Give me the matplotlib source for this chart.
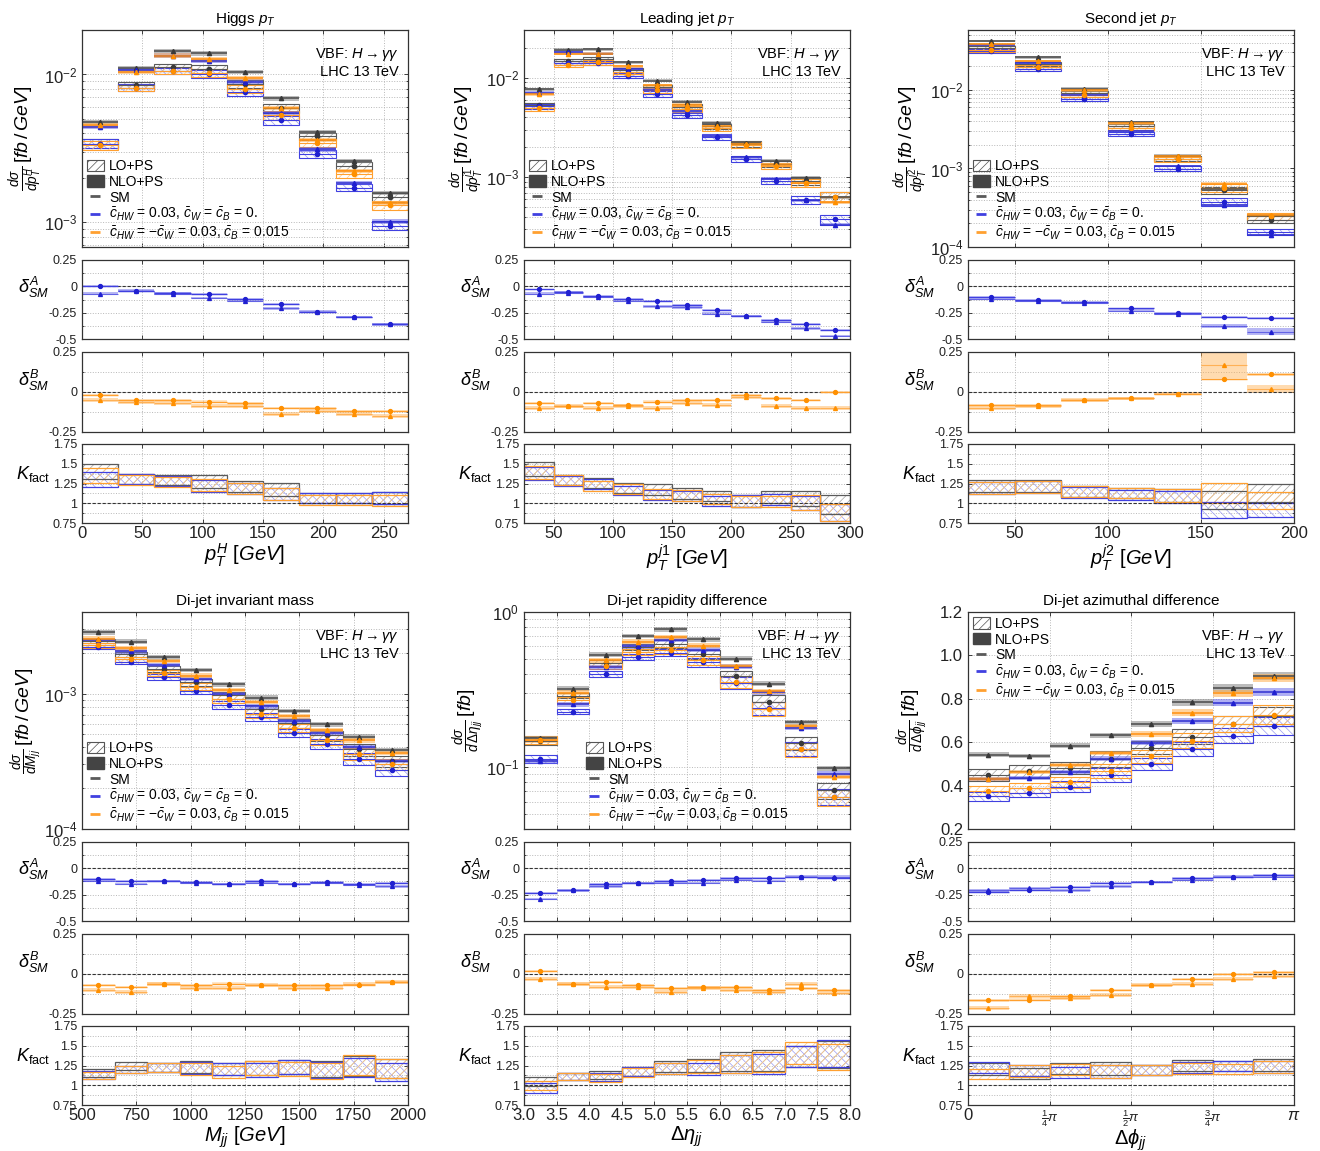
import numpy as np
import matplotlib
matplotlib.use('Agg')
from matplotlib import pyplot as plt
from matplotlib.patches import Patch
from matplotlib.lines import Line2D
from matplotlib.ticker import LogLocator, NullFormatter, MultipleLocator

plt.rcParams['font.family'] = ['Liberation Sans', 'DejaVu Sans']
plt.rcParams['mathtext.fontset'] = 'custom'
plt.rcParams['mathtext.rm'] = 'Liberation Sans'
plt.rcParams['mathtext.it'] = 'Liberation Sans:italic'
plt.rcParams['mathtext.bf'] = 'Liberation Sans:bold'
plt.rcParams['hatch.linewidth'] = 0.5

# ---- Higgs pT ----
HPT_EDGES = [0, 30, 60, 90, 120, 150, 180, 210, 240, 270]
HPT_SM_LO = [3.40e-3, 8.5e-3, 1.12e-2, 1.09e-2, 8.6e-3, 5.9e-3, 3.82e-3, 2.42e-3, 1.48e-3]
HPT_SM_NLO = [4.76e-3, 1.11e-2, 1.445e-2, 1.39e-2, 1.04e-2, 6.9e-3, 4.09e-3, 2.59e-3, 1.58e-3]
HPT_DA_LO = [0.0, -0.04, -0.06, -0.07, -0.12, -0.17, -0.24, -0.29, -0.36]
HPT_DA_NLO = [-0.07, -0.04, -0.07, -0.11, -0.14, -0.21, -0.24, -0.29, -0.36]
HPT_DB_LO = [-0.02, -0.05, -0.05, -0.06, -0.07, -0.10, -0.10, -0.12, -0.12]
HPT_DB_NLO = [-0.05, -0.06, -0.07, -0.09, -0.09, -0.14, -0.12, -0.14, -0.15]
HPT_LO_UNC = [0.07, 0.05, 0.05, 0.06, 0.06, 0.07, 0.06, 0.06, 0.07]

# ---- leading jet pT ----
LJ_EDGES = [25, 50, 75, 100, 125, 150, 175, 200, 225, 250, 275, 300]
LJ_SM_LO = [5.3e-3, 1.47e-2, 1.53e-2, 1.19e-2, 7.98e-3, 5.1e-3, 3.25e-3, 2.14e-3, 1.36e-3, 9.25e-4, 6.4e-4]
LJ_SM_NLO = [7.6e-3, 1.9e-2, 1.93e-2, 1.42e-2, 9.33e-3, 5.72e-3, 3.54e-3, 2.2e-3, 1.47e-3, 9.85e-4, 6.28e-4]
LJ_DA_LO = [-0.03, -0.05, -0.09, -0.12, -0.14, -0.18, -0.22, -0.28, -0.32, -0.36, -0.41]
LJ_DA_NLO = [-0.07, -0.06, -0.10, -0.14, -0.19, -0.20, -0.26, -0.28, -0.34, -0.40, -0.47]
LJ_DB_LO = [-0.07, -0.09, -0.07, -0.08, -0.06, -0.05, -0.05, -0.02, -0.04, -0.05, 0.0]
LJ_DB_NLO = [-0.10, -0.09, -0.10, -0.09, -0.10, -0.07, -0.08, -0.03, -0.09, -0.10, -0.10]
LJ_LO_UNC = [0.06, 0.05, 0.05, 0.05, 0.06, 0.06, 0.06, 0.07, 0.07, 0.09, 0.12]

# ---- second jet pT ----
SJ_EDGES = [25, 50, 75, 100, 125, 150, 175, 200]
SJ_SM_LO = [3.47e-2, 2.12e-2, 9.06e-3, 3.45e-3, 1.33e-3, 5.28e-4, 2.23e-4]
SJ_SM_NLO = [4.23e-2, 2.59e-2, 1.04e-2, 3.9e-3, 1.46e-3, 5.5e-4, 2.51e-4]
SJ_DA_LO = [-0.10, -0.13, -0.15, -0.21, -0.25, -0.29, -0.30]
SJ_DA_NLO = [-0.12, -0.14, -0.16, -0.23, -0.26, -0.38, -0.43]
SJ_DB_LO = [-0.08, -0.08, -0.05, -0.04, -0.01, 0.08, 0.11]
SJ_DB_NLO = [-0.10, -0.09, -0.05, -0.04, -0.01, 0.17, 0.02]
SJ_LO_UNC = [0.06, 0.06, 0.06, 0.06, 0.07, 0.11, 0.10]
SJ_DA_ERR = [0.012, 0.01, 0.01, 0.015, 0.01, 0.02, 0.03]
SJ_DB_ERR = [0.01, 0.01, 0.01, 0.01, 0.01, 0.085, 0.025]

# ---- di-jet invariant mass ----
MJJ_EDGES = [500, 650, 800, 950, 1100, 1250, 1400, 1550, 1700, 1850, 2000]
MJJ_SM_LO = [2.45e-3, 1.95e-3, 1.51e-3, 1.21e-3, 9.72e-4, 7.65e-4, 6.03e-4, 4.91e-4, 3.87e-4, 3.17e-4]
MJJ_SM_NLO = [2.83e-3, 2.42e-3, 1.85e-3, 1.49e-3, 1.17e-3, 9.34e-4, 7.44e-4, 5.93e-4, 4.8e-4, 3.83e-4]
MJJ_DA_LO = [-0.10, -0.12, -0.12, -0.13, -0.15, -0.12, -0.15, -0.13, -0.15, -0.14]
MJJ_DA_NLO = [-0.12, -0.15, -0.12, -0.14, -0.15, -0.14, -0.15, -0.14, -0.16, -0.17]
MJJ_DB_LO = [-0.07, -0.08, -0.06, -0.07, -0.06, -0.07, -0.07, -0.07, -0.07, -0.05]
MJJ_DB_NLO = [-0.10, -0.11, -0.06, -0.09, -0.09, -0.07, -0.09, -0.09, -0.06, -0.05]
MJJ_LO_UNC = [0.04, 0.04, 0.05, 0.06, 0.065, 0.075, 0.07, 0.085, 0.1, 0.1]

# ---- di-jet rapidity difference ----
DETA_EDGES = [3.0, 3.5, 4.0, 4.5, 5.0, 5.5, 6.0, 6.5, 7.0, 7.5, 8.0]
DETA_SM_LO = [0.147, 0.289, 0.47, 0.597, 0.623, 0.533, 0.385, 0.264, 0.143, 0.071]
DETA_SM_NLO = [0.154, 0.321, 0.532, 0.70, 0.773, 0.666, 0.50, 0.346, 0.195, 0.0986]
DETA_DA_LO = [-0.23, -0.21, -0.15, -0.14, -0.12, -0.11, -0.09, -0.09, -0.08, -0.09]
DETA_DA_NLO = [-0.29, -0.21, -0.17, -0.14, -0.14, -0.14, -0.11, -0.12, -0.08, -0.08]
DETA_DB_LO = [0.02, -0.06, -0.05, -0.07, -0.09, -0.08, -0.08, -0.10, -0.09, -0.10]
DETA_DB_NLO = [-0.03, -0.06, -0.08, -0.08, -0.11, -0.09, -0.10, -0.11, -0.06, -0.12]
DETA_LO_UNC = [0.06, 0.04, 0.045, 0.045, 0.055, 0.065, 0.09, 0.1, 0.1, 0.12]

# ---- di-jet azimuthal difference (edges in units of pi) ----
DPHI_EDGES_PI = [0, 0.125, 0.25, 0.375, 0.5, 0.625, 0.75, 0.875, 1.0]
DPHI_SM_LO = [0.45, 0.465, 0.482, 0.521, 0.575, 0.626, 0.684, 0.719]
DPHI_SM_NLO = [0.543, 0.536, 0.583, 0.632, 0.686, 0.783, 0.85, 0.904]
DPHI_DA_LO = [-0.22, -0.21, -0.18, -0.14, -0.13, -0.09, -0.08, -0.06]
DPHI_DA_NLO = [-0.21, -0.19, -0.21, -0.17, -0.13, -0.11, -0.08, -0.08]
DPHI_DB_LO = [-0.165, -0.16, -0.14, -0.10, -0.07, -0.03, 0.0, 0.01]
DPHI_DB_NLO = [-0.21, -0.14, -0.15, -0.13, -0.07, -0.06, -0.03, -0.01]
DPHI_LO_UNC = [0.06, 0.06, 0.06, 0.07, 0.055, 0.055, 0.055, 0.06]

GRAY = dict(line='#5a5a5a', nlo='#4a4a4a', band='#858585', alpha=0.55, hatch='#a0a0a0', mk='#3a3a3a')
BLUE = dict(line='#4040e0', nlo='#3030d0', band='#6060e8', alpha=0.5, hatch='#9a9af2', mk='#2020d0')
ORANGE = dict(line='#ffa030', nlo='#ff9010', band='#ffb050', alpha=0.55, hatch='#ffc888', mk='#ff9000')
HATCHES = ['////', '\\\\\\\\', '////']

PANELS = [
    dict(title='Higgs $p_T$', edges=HPT_EDGES, sm_lo=HPT_SM_LO, sm_nlo=HPT_SM_NLO,
         da_lo=HPT_DA_LO, da_nlo=HPT_DA_NLO, db_lo=HPT_DB_LO, db_nlo=HPT_DB_NLO,
         lo_unc=HPT_LO_UNC, nlo_unc=0.035, ylim=(6.8e-4, 2.0e-2), log=True,
         xlim=(0, 270), xticks=[0, 50, 100, 150, 200, 250], xticklabels=None,
         ylabel=r'$\frac{d\sigma}{dp_T^H}\,[fb\,/\,GeV]$', xlabel=r'$p_T^H\ [GeV]$', xlabel_y=-0.24,
         legend='lower left'),
    dict(title='Leading jet $p_T$', edges=LJ_EDGES, sm_lo=LJ_SM_LO, sm_nlo=LJ_SM_NLO,
         da_lo=LJ_DA_LO, da_nlo=LJ_DA_NLO, db_lo=LJ_DB_LO, db_nlo=LJ_DB_NLO,
         lo_unc=LJ_LO_UNC, nlo_unc=0.035, ylim=(2.0e-4, 3.0e-2), log=True,
         xlim=(25, 300), xticks=[50, 100, 150, 200, 250, 300], xticklabels=None,
         ylabel=r'$\frac{d\sigma}{dp_T^{j1}}\,[fb\,/\,GeV]$', xlabel=r'$p_T^{j1}\ [GeV]$', xlabel_y=-0.24,
         legend='lower left'),
    dict(title='Second jet $p_T$', edges=SJ_EDGES, sm_lo=SJ_SM_LO, sm_nlo=SJ_SM_NLO,
         da_lo=SJ_DA_LO, da_nlo=SJ_DA_NLO, db_lo=SJ_DB_LO, db_nlo=SJ_DB_NLO,
         lo_unc=SJ_LO_UNC, nlo_unc=0.035, ylim=(1.0e-4, 5.8e-2), log=True,
         xlim=(25, 200), xticks=[50, 100, 150, 200], xticklabels=None,
         ylabel=r'$\frac{d\sigma}{dp_T^{j2}}\,[fb\,/\,GeV]$', xlabel=r'$p_T^{j2}\ [GeV]$', xlabel_y=-0.24,
         legend='lower left', da_err=SJ_DA_ERR, db_err=SJ_DB_ERR),
    dict(title='Di-jet invariant mass', edges=MJJ_EDGES, sm_lo=MJJ_SM_LO, sm_nlo=MJJ_SM_NLO,
         da_lo=MJJ_DA_LO, da_nlo=MJJ_DA_NLO, db_lo=MJJ_DB_LO, db_nlo=MJJ_DB_NLO,
         lo_unc=MJJ_LO_UNC, nlo_unc=0.04, ylim=(1.0e-4, 4.0e-3), log=True,
         xlim=(500, 2000), xticks=[500, 750, 1000, 1250, 1500, 1750, 2000], xticklabels=None,
         ylabel=r'$\frac{d\sigma}{dM_{jj}}\,[fb\,/\,GeV]$', xlabel=r'$M_{jj}\ [GeV]$', xlabel_y=-0.25,
         legend='lower left'),
    dict(title='Di-jet rapidity difference', edges=DETA_EDGES, sm_lo=DETA_SM_LO, sm_nlo=DETA_SM_NLO,
         da_lo=DETA_DA_LO, da_nlo=DETA_DA_NLO, db_lo=DETA_DB_LO, db_nlo=DETA_DB_NLO,
         lo_unc=DETA_LO_UNC, nlo_unc=0.035, ylim=(0.04, 1.0), log=True,
         xlim=(3.0, 8.0), xticks=[3.0, 3.5, 4.0, 4.5, 5.0, 5.5, 6.0, 6.5, 7.0, 7.5, 8.0],
         xticklabels=['3.0', '3.5', '4.0', '4.5', '5.0', '5.5', '6.0', '6.5', '7.0', '7.5', '8.0'],
         ylabel=r'$\frac{d\sigma}{d\,\Delta\eta_{jj}}\,[fb]$', xlabel=r'$\Delta\eta_{jj}$', xlabel_y=-0.25,
         legend=(0.175, 0.0)),
    dict(title='Di-jet azimuthal difference', edges=np.pi * np.array(DPHI_EDGES_PI),
         sm_lo=DPHI_SM_LO, sm_nlo=DPHI_SM_NLO,
         da_lo=DPHI_DA_LO, da_nlo=DPHI_DA_NLO, db_lo=DPHI_DB_LO, db_nlo=DPHI_DB_NLO,
         lo_unc=DPHI_LO_UNC, nlo_unc=0.02, ylim=(0.2, 1.2), log=False,
         xlim=(0, np.pi), xticks=[0, np.pi / 4, np.pi / 2, 3 * np.pi / 4, np.pi],
         xticklabels=['0', r'$\frac{1}{4}\pi$', r'$\frac{1}{2}\pi$', r'$\frac{3}{4}\pi$', r'$\pi$'],
         ylabel=r'$\frac{d\sigma}{d\,\Delta\phi_{jj}}\,[fb]$', xlabel=r'$\Delta\phi_{jj}$', xlabel_y=-0.285,
         legend='upper left'),
]

W, H = 1320, 1151
COL_X = [82, 524, 968]
AX_W = 326
ROW_Y = [(30, 247), (260, 339), (352, 432), (444, 523)]
ROW_SHIFT = 582


def add_ax(fig, x, y1, y2):
    return fig.add_axes([x / W, 1 - y2 / H, AX_W / W, (y2 - y1) / H])


def style_ax(ax, p, bottom_labels=False):
    ax.set_xlim(*p['xlim'])
    ax.set_xticks(p['xticks'])
    if p['xticklabels'] is not None:
        ax.set_xticklabels(p['xticklabels'])
    ax.tick_params(direction='in', top=True, right=True, length=3, width=0.6,
                   labelbottom=bottom_labels, labelsize=12, colors='#222222')
    ax.tick_params(which='minor', direction='in', top=True, right=True, length=1.5, width=0.5)
    ax.grid(True, axis='x', which='major', ls=':', lw=0.7, color='#b8b8b8')
    ax.grid(True, axis='y', which='both', ls=':', lw=0.7, color='#b8b8b8')
    ax.set_axisbelow(True)
    for s in ax.spines.values():
        s.set_color('#333333')
        s.set_linewidth(0.9)
        s.set_linestyle((0, (3, 1)))


def bins(p):
    e = np.asarray(p['edges'], dtype=float)
    return e[:-1], np.diff(e)


def three_series(p):
    sm_lo, sm_nlo = np.array(p['sm_lo']), np.array(p['sm_nlo'])
    return [
        (sm_lo, sm_nlo, GRAY),
        (sm_lo * (1 + np.array(p['da_lo'])), sm_nlo * (1 + np.array(p['da_nlo'])), BLUE),
        (sm_lo * (1 + np.array(p['db_lo'])), sm_nlo * (1 + np.array(p['db_nlo'])), ORANGE),
    ]


def draw_main(ax, p):
    left, width = bins(p)
    cen = left + width / 2
    series = three_series(p)
    lu = np.array(p['lo_unc'])
    nu = p['nlo_unc']
    for (lo, nlo, c), h in zip(series, HATCHES):
        ax.bar(left, 2 * lo * lu, width, bottom=lo * (1 - lu), align='edge',
               facecolor='none', edgecolor=c['hatch'], hatch=h, lw=0)
        ax.bar(left, 2 * lo * lu, width, bottom=lo * (1 - lu), align='edge',
               fill=False, edgecolor=c['line'], lw=0.8)
        ax.hlines(lo, left, left + width, color=c['line'], lw=0.8)
    for lo, nlo, c in series:
        ax.bar(left, 2 * nlo * nu, width, bottom=nlo * (1 - nu), align='edge',
               color=c['band'], alpha=c['alpha'], lw=0)
        ax.hlines(nlo, left, left + width, color=c['nlo'], lw=1.1)
    for lo, nlo, c in series:
        ax.plot(cen, nlo, ls='none', marker='^', ms=3, color=c['mk'])
        ax.plot(cen, lo, ls='none', marker='o', ms=3, color=c['mk'])
    if p['log']:
        ax.set_yscale('log')
        ax.yaxis.set_major_locator(LogLocator(base=10, numticks=10))
        ax.yaxis.set_minor_locator(LogLocator(base=10, subs=np.arange(2, 10), numticks=20))
        ax.yaxis.set_minor_formatter(NullFormatter())
    else:
        ax.set_yticks([0.2, 0.4, 0.6, 0.8, 1.0, 1.2])
        ax.set_yticklabels(['0.2', '0.4', '0.6', '0.8', '1.0', '1.2'])
    ax.set_ylim(*p['ylim'])
    style_ax(ax, p)
    ax.tick_params(axis='y', labelsize=12, labelleft=True)
    ax.set_title(p['title'], fontsize=11, pad=5)
    ax.set_ylabel(p['ylabel'], fontsize=14)
    ax.yaxis.set_label_coords(-0.112, 0.5)
    ax.text(0.972, 0.925, 'VBF: $H \\rightarrow \\gamma\\gamma$\nLHC 13 TeV', transform=ax.transAxes,
            ha='right', va='top', fontsize=10.5, multialignment='right', linespacing=1.15)
    handles = [
        Patch(facecolor='white', edgecolor='#555555', hatch='////', lw=0.8),
        Patch(facecolor='#444444', edgecolor='#444444'),
        Line2D([], [], ls='none', marker='_', ms=7, mew=2, color=GRAY['line']),
        Line2D([], [], ls='none', marker='_', ms=7, mew=2, color=BLUE['line']),
        Line2D([], [], ls='none', marker='_', ms=7, mew=2, color=ORANGE['line']),
    ]
    labels = ['LO+PS', 'NLO+PS', 'SM',
              r'$\bar{c}_{HW}$ = 0.03, $\bar{c}_W$ = $\bar{c}_B$ = 0.',
              r'$\bar{c}_{HW}$ = $-\bar{c}_W$ = 0.03, $\bar{c}_B$ = 0.015']
    loc = p['legend']
    kw = dict(frameon=False, fontsize=10, labelspacing=0.12, handletextpad=0.4,
              handlelength=1.2, handleheight=0.9, borderaxespad=0.15, borderpad=0.2)
    if isinstance(loc, tuple):
        ax.legend(handles, labels, loc='lower left', bbox_to_anchor=loc, **kw)
    else:
        ax.legend(handles, labels, loc=loc, **kw)


def draw_delta(ax, p, lo_key, nlo_key, c, rng, err_key):
    left, width = bins(p)
    cen = left + width / 2
    lo = np.array(p[lo_key])
    nlo = np.array(p[nlo_key])
    nerr = np.array(p.get(err_key, 0.012))
    ax.bar(left, 2 * 0.008 * np.ones_like(lo), width, bottom=lo - 0.008, align='edge',
           color=c['band'], alpha=0.3, lw=0)
    ax.bar(left, 2 * nerr * np.ones_like(nlo), width, bottom=nlo - nerr, align='edge',
           color=c['band'], alpha=0.45, lw=0)
    ax.hlines(lo, left, left + width, color=c['line'], lw=1.0)
    ax.hlines(nlo, left, left + width, color=c['line'], lw=0.8, alpha=0.7)
    ax.plot(cen, lo, ls='none', marker='o', ms=2.8, color=c['mk'])
    ax.plot(cen, nlo, ls='none', marker='^', ms=2.8, color=c['mk'])
    ax.axhline(0, color='#333333', lw=0.8, ls=(0, (3, 1.5)), zorder=1)
    ax.set_ylim(*rng)
    names = {-0.5: '-0.5', -0.25: '-0.25', 0: '0', 0.25: '0.25'}
    ticks = [t for t in names if rng[0] <= t <= rng[1]]
    ax.set_yticks(ticks)
    ax.set_yticklabels([names[t] for t in ticks])
    ax.yaxis.set_minor_locator(MultipleLocator(0.125))
    style_ax(ax, p)
    ax.tick_params(axis='y', labelsize=9)


def draw_k(ax, p):
    left, width = bins(p)
    series = three_series(p)
    lu = np.array(p['lo_unc'])
    for (lo, nlo, c), h in zip(series, HATCHES):
        k = nlo / lo
        ax.bar(left, 2 * k * lu, width, bottom=k * (1 - lu), align='edge',
               facecolor='none', edgecolor=c['hatch'], hatch=h, lw=0)
    for lo, nlo, c in series:
        k = nlo / lo
        ax.bar(left, 2 * k * lu, width, bottom=k * (1 - lu), align='edge',
               fill=False, edgecolor=c['line'], lw=0.9)
    ax.axhline(1, color='#333333', lw=0.8, ls=(0, (3, 1.5)), zorder=1)
    ax.set_ylim(0.75, 1.75)
    ax.set_yticks([0.75, 1, 1.25, 1.5, 1.75])
    ax.set_yticklabels(['0.75', '1', '1.25', '1.5', '1.75'])
    ax.yaxis.set_minor_locator(MultipleLocator(0.125))
    style_ax(ax, p, bottom_labels=True)
    ax.tick_params(axis='y', labelsize=9)
    ax.tick_params(axis='x', labelsize=12, pad=2.5)
    # the fraction labels (1/4 pi ...) are set a bit smaller so they stay compact
    for lbl in ax.get_xticklabels():
        if 'frac' in lbl.get_text():
            lbl.set_fontsize(9.5)
    ax.set_xlabel(p['xlabel'], fontsize=14.5)
    ax.xaxis.set_label_coords(0.5, p['xlabel_y'])


fig = plt.figure(figsize=(W / 100, H / 100), dpi=100)
for i, p in enumerate(PANELS):
    x = COL_X[i % 3]
    shift = ROW_SHIFT * (i // 3)
    ys = [(a + shift, b + shift) for a, b in ROW_Y]
    ax_main = add_ax(fig, x, *ys[0])
    draw_main(ax_main, p)
    ax_a = add_ax(fig, x, *ys[1])
    draw_delta(ax_a, p, 'da_lo', 'da_nlo', BLUE, (-0.5, 0.25), 'da_err')
    ax_a.set_ylabel(r'$\delta^{A}_{SM}$', fontsize=13, rotation=0, va='center', ha='center')
    ax_a.yaxis.set_label_coords(-0.15, 0.65)
    ax_b = add_ax(fig, x, *ys[2])
    draw_delta(ax_b, p, 'db_lo', 'db_nlo', ORANGE, (-0.25, 0.25), 'db_err')
    ax_b.set_ylabel(r'$\delta^{B}_{SM}$', fontsize=13, rotation=0, va='center', ha='center')
    ax_b.yaxis.set_label_coords(-0.15, 0.65)
    ax_k = add_ax(fig, x, *ys[3])
    draw_k(ax_k, p)
    ax_k.set_ylabel(r'$K_{\rm fact}$', fontsize=13, rotation=0, va='center', ha='center')
    ax_k.yaxis.set_label_coords(-0.15, 0.62)

fig.savefig('out.png', dpi=100)
